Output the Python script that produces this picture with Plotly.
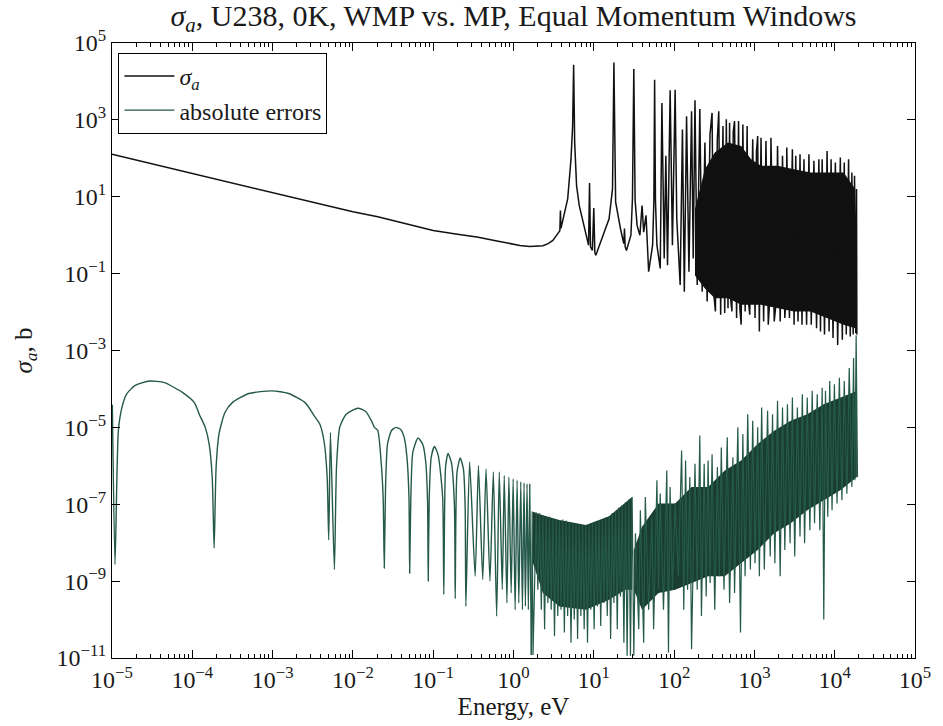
import plotly.graph_objects as go

# ---------------- data ----------------
sigma_E = [1e-5, 1e-4, 1e-3, 0.01, 0.0204, 0.05, 0.1, 0.2, 0.35, 0.6, 0.90, 1.2, 1.59, 2.0, 2.33, 2.7,
           3.09, 3.56, 3.78, 3.84, 3.90,
           4.73, 5.2, 5.45, 5.61, 5.78, 6.1, 6.59, 8.36, 8.6, 8.85, 9.1, 9.6, 10.0, 10.3, 10.6,
           15.5, 17.1, 17.8, 18.7, 21.5, 23.6, 24.1, 24.6, 25.5, 29.0, 30.3, 31.5, 32.7, 34.6,
           37.5, 39.9, 41.8, 44.7, 48.2, 54.0, 56.0, 57.2, 58.6, 61.1, 67.2, 70.5, 75.3, 78.9,
           82.8, 89.3, 95.3, 103, 108, 119, 127, 134, 143, 153, 165, 173, 182, 194, 209, 224,
           242, 258, 280, 297, 312, 327, 345, 360, 380, 406, 427, 447, 469, 491, 508, 525, 545, 566, 600, 635, 660, 684, 718,
           767, 812, 840, 875, 953, 1019, 1060, 1099, 1153, 1208, 1303, 1393, 1489, 1550, 1607, 1766, 1850, 1941, 2094,
           2239, 2393, 2460, 2531, 2731, 2972, 3120, 3273, 3493, 3698, 3917, 4140, 4467, 4775, 5105,
           5508, 5943, 6353, 6653, 6982, 7464, 8040, 8511, 9016, 9528, 10190, 10890, 11750,
           12440, 13150, 13930, 14890, 15630, 16370, 16990, 17660, 18300, 18700, 18880]
sigma_a = [128, 40.5, 12.8, 4.05, 3.0, 1.85, 1.32, 1.06, 0.90, 0.72, 0.60, 0.54, 0.51, 0.51, 0.53, 0.6,
           0.73, 1.1, 1.3, 4.4, 1.5,
           8.8, 95, 690, 27000, 260, 19.5, 5.9, 0.67, 0.55, 22.7, 0.5, 0.4, 5.1, 0.35, 0.30,
           2.67, 16, 31000, 7.2, 1.47, 0.6, 1.5, 0.5, 0.40, 1.0, 9.0, 21000, 8.0, 1.8,
           1.0, 5.9, 1.2, 3.3, 0.112, 0.55, 8.0, 11000, 8.0, 0.55, 0.136, 2760, 0.247, 116,
           0.166, 5900, 0.55, 6100, 2.7, 0.051, 565, 0.034, 1250, 0.112, 1680, 0.247, 3240, 0.051, 1930, 0.034,
           256, 0.0188, 420, 1520, 0.03, 0.0104, 300, 1680, 0.0085, 689, 0.0094, 1030, 0.0126, 841, 0.02, 0.0104, 500, 929, 0.0070, 929, 0.012, 0.0047, 761,
           0.0104, 689, 0.02, 0.0085, 312, 0.0070, 150, 380, 0.0031, 344, 0.0057, 282, 0.0047, 0.02, 344, 0.0057, 0.015, 210, 0.0057,
           116, 0.0070, 0.02, 190, 0.0070, 172, 0.0047, 116, 0.0057, 128, 0.0047, 95, 0.0047, 128, 0.0047,
           86, 0.0038, 95, 0.0031, 95, 0.0026, 156, 0.0031, 95, 0.0021, 78, 0.0014, 105,
           0.0019, 78, 0.0026, 95, 0.0023, 43, 0.0026, 35, 0.0028, 16, 0.0026]

# solid core of the dense sigma_a band (upper / lower edge)
sigma_core_E = [182, 242, 321, 469, 684, 910, 1208, 1941, 3119, 5011, 8040, 12910, 17990]
sigma_core_hi = [4.8, 52, 141, 256, 210, 95, 64, 64, 52, 43, 43, 43, 16]
sigma_core_lo = [0.09, 0.041, 0.023, 0.023, 0.0154, 0.0154, 0.0154, 0.0126, 0.0104, 0.0104, 0.0070, 0.0047, 0.0038]

err_E = [1.01e-5, 1.09e-5, 1.2e-5, 1.33e-5, 1.52e-5, 1.92e-5, 2.94e-5, 4.5e-5, 7.6e-5, 1.06e-4,
         1.22e-4, 1.45e-4, 1.62e-4, 1.77e-4, 1.87e-4, 1.98e-4, 2.15e-4, 2.55e-4, 3.15e-4, 5.06e-4,
         9.8e-4, 1.58e-3, 2.54e-3, 3.3e-3, 3.88e-3, 4.39e-3, 4.78e-3, 5.0e-3, 5.25e-3, 5.88e-3,
         6.25e-3, 6.85e-3, 8.2e-3, 0.01153, 0.01446, 0.01718, 0.01854, 0.0204, 0.0224, 0.0238,
         0.0246, 0.0255, 0.027, 0.0303, 0.0343, 0.0391, 0.0435, 0.0471, 0.0499, 0.0509,
         0.0527, 0.0558, 0.0647, 0.0742, 0.0808, 0.0851, 0.0867, 0.0893, 0.0945, 0.1037,
         0.1153, 0.131, 0.1355, 0.1426, 0.153, 0.169, 0.184, 0.188, 0.198, 0.217,
         0.238, 0.25, 0.255, 0.284, 0.333, 0.366, 0.414, 0.455, 0.509, 0.561,
         0.617, 0.665, 0.725, 0.767, 0.828, 0.876, 0.936, 0.99, 1.048, 1.109,
         1.164, 1.232, 1.291, 1.353, 1.406, 1.475, 1.531, 1.592, 1.668,
         1.71, 1.75, 1.92, 2.01, 2.11, 2.22, 2.32, 2.44, 2.55, 2.68, 2.81, 2.95, 3.09, 3.24,
         3.40, 3.56, 3.73, 3.91, 4.10, 4.30, 4.51, 4.73, 4.96, 5.20, 5.46, 5.71, 6.00, 6.28,
         6.59, 6.90, 7.25, 7.59, 7.96, 8.35, 8.75, 9.18, 9.62, 10.1, 10.6, 11.1, 11.6, 12.2,
         12.8, 13.4, 14.1, 14.7, 15.5, 16.2, 17.0, 17.8, 18.7, 19.6, 20.5, 21.5, 22.6, 23.7,
         24.8, 26.0, 27.3, 28.6, 30.0, 31.5,
         33.0, 36.3, 38.0, 41.8, 43.8, 48.2, 53.0, 55.6, 61.1, 64.0, 67.1, 73.8, 81.1, 85.1,
         89.1, 95.3, 103, 113, 124, 132, 139, 147, 157, 165, 182, 194, 209, 219, 237, 251,
         265, 281, 297, 321, 346, 366, 387, 418, 459, 491, 540, 566, 622, 671, 718, 766,
         826, 891, 953, 1018, 1099, 1153, 1231, 1329, 1459, 1574, 1682, 1798, 1941, 2094,
         2239, 2393, 2578, 2780, 2972, 3177, 3428, 3698, 3952, 4217, 4550, 4909, 5246, 5610,
         6055, 6531, 6982, 7311, 7674, 8200, 8670, 9268, 9908, 10690, 11430, 12310, 13150,
         14190, 15170, 16370, 17170, 17820, 18500, 19230]
abs_err = [3.9e-5, 2.7e-9, 8.2e-6, 3.3e-5, 7.3e-5, 1.22e-4, 1.61e-4, 1.46e-4, 8.0e-5, 4.4e-5,
           2.2e-5, 1.0e-5, 3.7e-6, 5.1e-7, 7.2e-9, 9.3e-7, 6.7e-6, 2.44e-5, 4.4e-5, 7.6e-5,
           8.9e-5, 7.6e-5, 4.4e-5, 2.0e-5, 1.2e-5, 4.1e-6, 5.1e-7, 1.18e-8, 7.4e-6, 2.0e-9,
           9.3e-7, 1.0e-5, 2.17e-5, 3.15e-5, 2.6e-5, 1.43e-5, 1.0e-5, 8.3e-6, 1.38e-6, 1.55e-7,
           2.2e-9, 2.8e-7, 3.7e-6, 8.3e-6, 1.0e-5, 8.9e-6, 5.5e-6, 1.68e-6, 1.55e-7, 1.6e-9,
           1.55e-7, 2.26e-6, 5.3e-6, 3.6e-6, 1.24e-6, 1.15e-7, 1.0e-9, 1.55e-7, 1.68e-6, 3.2e-6,
           1.9e-6, 1.55e-7, 4.5e-10, 9.3e-7, 2.1e-6, 1.17e-6, 8.6e-8, 3.5e-10, 6.9e-7, 1.6e-6,
           8.2e-7, 8.6e-8, 2.2e-10, 1.26e-6, 1.33e-9, 1.0e-6, 1.1e-9, 8.3e-7, 1.0e-9, 6.9e-7,
           1.23e-10, 6.9e-7, 6.0e-10, 5.6e-7, 2.7e-10, 5.1e-7, 4.9e-10, 4.6e-7, 1.8e-10, 4.2e-7,
           2.7e-10, 3.8e-7, 1.8e-10, 3.6e-7, 2.2e-10, 3.4e-7, 1.8e-10, 3.3e-7, 1.2e-11,
           6.5e-8, 1.2e-11, 6.1e-8, 6.0e-10, 5.8e-8, 1.8e-10, 5.2e-8, 5.6e-11, 4.9e-8, 2.7e-10, 4.7e-8, 1.8e-10, 4.3e-8, 3.7e-11,
           4.0e-8, 1.23e-10, 3.9e-8, 1.8e-10, 4.0e-8, 4.6e-11, 3.8e-8, 1.23e-10, 3.4e-8, 2.5e-11, 3.2e-8, 1.0e-10, 3.1e-8, 3.1e-11,
           3.0e-8, 1.23e-10, 2.9e-8, 5.6e-11, 2.9e-8, 2.5e-11, 3.0e-8, 1.8e-10, 3.2e-8, 5.6e-11, 3.4e-8, 2.2e-10, 3.8e-8, 6.8e-11,
           4.0e-8, 2.7e-10, 4.5e-8, 1.23e-10, 4.9e-8, 3.1e-11, 5.9e-8, 2.7e-10, 6.8e-8, 5.6e-11, 8.2e-8, 4.0e-10, 9.5e-8, 2.5e-11,
           1.12e-7, 1.14e-11, 1.33e-7, 1.14e-11, 1.55e-7, 1.14e-11,
           1.75e-8, 5.6e-11, 7.0e-8, 2.5e-11, 1.55e-7, 1.8e-10, 4.7e-8, 5.6e-11, 4.2e-7, 6.0e-10, 1.89e-7, 1.8e-10, 7.6e-7, 1.4e-11,
           2.8e-7, 6.0e-10, 1.04e-7, 1.33e-9, 2.5e-6, 1.8e-10, 1.38e-6, 6.0e-10, 5.1e-7, 1.7e-11, 1.13e-6, 6.0e-10, 6.1e-6, 1.23e-10, 1.13e-6, 4.0e-10,
           1.38e-6, 8.9e-10, 2.0e-6, 1.8e-10, 9.3e-7, 1.33e-9, 3.0e-6, 6.0e-10, 5.5e-6, 2.7e-10, 1.68e-6, 4.9e-10, 1.0e-5, 4.6e-11, 6.7e-6, 1.33e-9,
           2.2e-5, 2.0e-9, 1.49e-5, 2.9e-9, 1.0e-5, 1.33e-9, 3.3e-5, 2.0e-9, 2.7e-5, 4.4e-9, 2.2e-5, 2.9e-9, 4.9e-5, 1.33e-9,
           3.3e-5, 6.5e-9, 4.0e-5, 9.7e-9, 6.0e-5, 4.4e-9, 3.3e-5, 1.44e-8, 7.3e-5, 9.7e-9, 6.0e-5, 2.1e-8, 8.9e-5, 3.2e-8,
           7.3e-5, 2.1e-8, 1.08e-4, 1.0e-10, 8.9e-5, 4.7e-8, 1.6e-4, 7.0e-8, 1.32e-4, 1.04e-7, 1.96e-4, 1.27e-7, 1.6e-4,
           1.89e-7, 3.5e-4, 2.8e-7, 6.4e-4, 4.2e-7, 2.5e-3, 5.1e-7]

# solid cores of the error band
errA_E = [1.75, 2.32, 3.73, 7.96, 15.5, 24.8, 30.0]
errA_hi = [6.4e-8, 5.2e-8, 3.9e-8, 2.9e-8, 4.9e-8, 1.12e-7, 1.55e-7]
errA_lo = [2.9e-9, 4.9e-10, 2.2e-10, 1.8e-10, 3.3e-10, 6.0e-10, 6.0e-10]
errB_E = [31.5, 39.9, 64.0, 103, 165, 265, 427, 684, 1099, 1766, 2831, 4550, 7311, 11750, 18880]
errB_hi = [6.5e-9, 2.6e-8, 1.04e-7, 1.04e-7, 2.8e-7, 2.8e-7, 7.6e-7, 1.38e-6, 3.7e-6, 8.2e-6, 1.49e-5, 2.2e-5, 4.0e-5, 6.0e-5, 8.9e-5]
errB_lo = [6.0e-10, 1.8e-10, 4.9e-10, 6.0e-10, 8.9e-10, 1.33e-9, 1.33e-9, 2.9e-9, 6.5e-9, 1.75e-8, 3.2e-8, 7.0e-8, 1.27e-7, 2.3e-7, 5.1e-7]

x_ticks = [10 ** k for k in range(-5, 6)]
y_ticks = [10 ** k for k in range(-11, 6, 2)]


def pow_label(k):
    s = str(k).replace("-", "\u2212")
    return "10<sup>" + s + "</sup>"


BLACK = "#111111"
GREEN = "#25594a"
GREEN_FILL = "#193d2f"
FONT = "Liberation Serif"
TXT = "#1a1a1a"

fig = go.Figure()


def band(E, hi, lo, color):
    return go.Scatter(x=list(E) + list(E)[::-1], y=list(hi) + list(lo)[::-1],
                      fill="toself", fillcolor=color, mode="lines",
                      line=dict(width=0, color=color), showlegend=False, hoverinfo="skip")


fig.add_trace(band(sigma_core_E, sigma_core_hi, sigma_core_lo, BLACK))
fig.add_trace(go.Scatter(x=sigma_E, y=sigma_a, mode="lines", name="<i>σ<sub>a</sub></i>",
                         line=dict(color=BLACK, width=1.5), legendgroup="a"))
fig.add_trace(band(errA_E, errA_hi, errA_lo, GREEN_FILL))
fig.add_trace(band(errB_E, errB_hi, errB_lo, GREEN_FILL))

split = err_E.index(1.668)
fig.add_trace(go.Scatter(x=err_E[:split + 1], y=abs_err[:split + 1], mode="lines", name="absolute errors",
                         line=dict(color=GREEN, width=1.4, shape="spline", smoothing=0.6), legendgroup="b"))
fig.add_trace(go.Scatter(x=err_E[split:], y=abs_err[split:], mode="lines", showlegend=False,
                         line=dict(color=GREEN, width=1.2), legendgroup="b"))

minor_x = [m * 10 ** k for k in range(-5, 5) for m in range(2, 10)]

axis_common = dict(showline=True, linecolor="black", linewidth=1.3, mirror="ticks",
                   ticks="inside", ticklen=8, tickwidth=1, tickcolor="black",
                   showgrid=False, zeroline=False,
                   tickfont=dict(family=FONT, size=24, color=TXT))

fig.update_xaxes(type="log", range=[-5, 5], tickmode="array", tickvals=x_ticks,
                 ticktext=[pow_label(k) for k in range(-5, 6)],
                 minor=dict(tickmode="array", tickvals=minor_x, ticks="inside", ticklen=4,
                            tickcolor="black", showgrid=False),
                 title=dict(text="Energy, eV", font=dict(family=FONT, size=25, color=TXT), standoff=4),
                 **axis_common)
fig.update_yaxes(type="log", range=[-11, 5], tickmode="array", tickvals=y_ticks,
                 ticktext=[pow_label(k) for k in range(-11, 6, 2)],
                 title=dict(text="<i>σ<sub>a</sub></i>, b", font=dict(family=FONT, size=25, color=TXT), standoff=16),
                 **axis_common)

fig.update_layout(
    width=943, height=726,
    margin=dict(l=112, r=21, t=43, b=64),
    paper_bgcolor="white", plot_bgcolor="white",
    title=dict(text="<i>σ<sub>a</sub></i>, U238, 0K, WMP vs. MP, Equal Momentum Windows",
               x=0.5, xref="paper", xanchor="center", y=0.979, yanchor="middle",
               font=dict(family=FONT, size=30, color=TXT)),
    legend=dict(x=0.008, y=0.984, xanchor="left", yanchor="top", bgcolor="white",
                bordercolor="black", borderwidth=1, tracegroupgap=0, itemwidth=50,
                font=dict(family=FONT, size=24, color=TXT), traceorder="grouped"),
    showlegend=True,
)

fig.write_html("out.html")
